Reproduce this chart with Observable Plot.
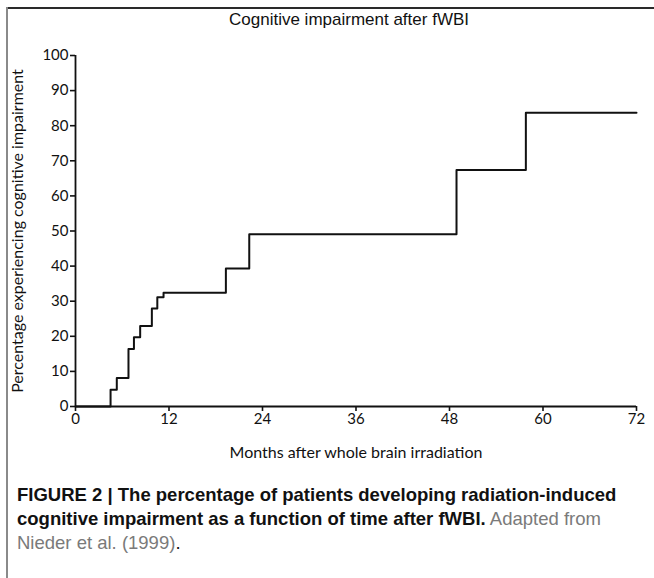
<!DOCTYPE html>
<html>
<head>
<meta charset="utf-8">
<script src="https://cdn.jsdelivr.net/npm/d3@7"></script>
<script src="https://cdn.jsdelivr.net/npm/@observablehq/plot@0.6"></script>
<style>
  html, body { margin: 0; padding: 0; background: #fff; }
  #wrap { position: relative; width: 654px; height: 578px; overflow: hidden; background: #fff; }
  #bTop { position: absolute; left: 7px; top: 7px; width: 647px; height: 2px; background: #2a2a2a; }
  #bLeft { position: absolute; left: 6px; top: 7px; width: 2px; height: 571px; background: #8a8a8a; }
  #title { position: absolute; left: 49px; width: 600px; top: 10px; text-align: center;
           font-family: "Liberation Sans", Arial, sans-serif; font-size: 17px; color: #111; }
  #chart { position: absolute; left: 0; top: 0; }
  #caption { position: absolute; left: 17px; top: 483px; font-family: "Liberation Sans", Arial, sans-serif;
             font-size: 18.5px; line-height: 24px; color: #111; white-space: nowrap; }
  #caption b { font-weight: 700; }
  #caption .g { color: #7a7a7a; }
</style>
</head>
<body>
<div id="wrap">
  <div id="bTop"></div>
  <div id="bLeft"></div>
  <div id="chart"></div>
  <div id="title">Cognitive impairment after fWBI</div>
  <div id="caption"><b>FIGURE 2 | The percentage of patients developing radiation-induced</b><br><b>cognitive impairment as a function of time after fWBI.</b> <span class="g">Adapted from</span><br><span class="g">Nieder et al. (1999)</span>.</div>
</div>
<script>
const months = [0, 4.5, 5.3, 6.8, 7.5, 8.3, 9.8, 10.5, 11.3, 19.3, 22.3, 48.9, 57.8, 72];
const pct    = [0, 4.8, 8.1, 16.4, 19.7, 22.9, 27.9, 31.1, 32.4, 39.3, 49.1, 67.4, 83.7, 83.7];
const xTicks = [0, 12, 24, 36, 48, 60, 72];
const yTicks = [0, 10, 20, 30, 40, 50, 60, 70, 80, 90, 100];
const xLabel = "Months after whole brain irradiation";
const yLabel = "Percentage experiencing cognitive impairment";

const data = months.map((m, i) => ({month: m, pct: pct[i]}));
const font = "Lato, 'Open Sans', sans-serif";

const chart = Plot.plot({
  width: 654,
  height: 470,
  marginLeft: 75,
  marginRight: 18,
  marginTop: 55,
  marginBottom: 64,
  style: {fontFamily: font, fontSize: "15px", color: "#111", background: "transparent", overflow: "visible"},
  x: {domain: [0, 72]},
  y: {domain: [0, 100]},
  marks: [
    Plot.axisX({ticks: xTicks, tickSize: 5, tickPadding: 2, label: null, strokeWidth: 1.6, fontSize: 15}),
    Plot.axisY({ticks: yTicks, tickSize: 5, tickPadding: 2, label: null, strokeWidth: 1.6, fontSize: 15}),
    Plot.ruleY([0], {x1: 0, x2: 72, stroke: "#111", strokeWidth: 1.8}),
    Plot.ruleX([0], {y1: 0, y2: 100, stroke: "#111", strokeWidth: 1.8}),
    Plot.line(data, {x: "month", y: "pct", curve: "step-after", stroke: "#111", strokeWidth: 2}),
    Plot.text([xLabel], {frameAnchor: "bottom", dy: 51, fontSize: 16, fill: "#111"}),
    Plot.text([yLabel], {frameAnchor: "left", textAnchor: "middle", dx: -58, rotate: -90, fontSize: 16, fill: "#111"})
  ]
});
document.getElementById("chart").appendChild(chart);
</script>
</body>
</html>
